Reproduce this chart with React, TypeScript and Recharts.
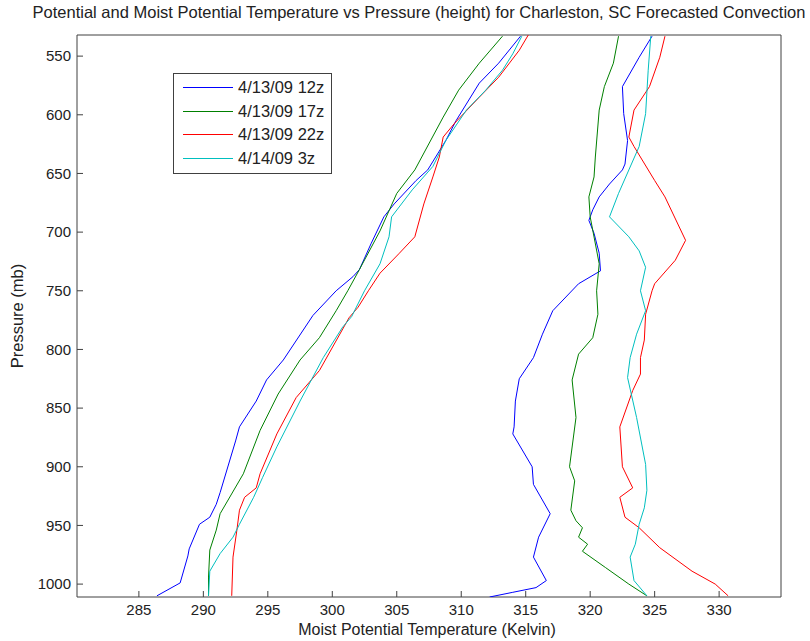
import { ComposedChart, Scatter, XAxis, YAxis, Legend } from 'recharts';

// axes
const tempTicks = [285, 290, 295, 300, 305, 310, 315, 320, 325, 330];
const pressureTicks = [550, 600, 650, 700, 750, 800, 850, 900, 950, 1000];
const T_DOMAIN: [number, number] = [280.2, 334.8];
const P_DOMAIN: [number, number] = [532, 1011];

const runs = ['4/13/09 12z', '4/13/09 17z', '4/13/09 22z', '4/14/09 3z'];
const COLORS = ['#0000ff', '#008000', '#ff0000', '#00bfbf'];

// potential temperature profiles (p in mb, t in K)
const theta12z = [
  { p: 1010, t: 286.4 }, { p: 999, t: 288.2 }, { p: 976, t: 288.8 }, { p: 970, t: 288.9 },
  { p: 949, t: 289.7 }, { p: 943, t: 290.5 }, { p: 932, t: 291.0 }, { p: 922, t: 291.3 },
  { p: 878, t: 292.5 }, { p: 866, t: 292.8 }, { p: 844, t: 294.1 }, { p: 826, t: 294.9 },
  { p: 809, t: 296.2 }, { p: 771, t: 298.5 }, { p: 750, t: 300.3 }, { p: 738, t: 301.6 },
  { p: 732, t: 302.1 }, { p: 710, t: 303.0 }, { p: 687, t: 304.0 }, { p: 676, t: 304.8 },
  { p: 656, t: 306.5 }, { p: 647, t: 307.4 }, { p: 622, t: 308.8 }, { p: 605, t: 309.6 },
  { p: 573, t: 311.4 }, { p: 556, t: 312.9 }, { p: 533, t: 314.6 },
];
const theta17z = [
  { p: 1010, t: 290.4 }, { p: 994, t: 290.4 }, { p: 971, t: 290.5 }, { p: 954, t: 291.0 },
  { p: 940, t: 291.3 }, { p: 906, t: 293.1 }, { p: 869, t: 294.4 }, { p: 838, t: 295.8 },
  { p: 809, t: 297.5 }, { p: 790, t: 299.0 }, { p: 767, t: 300.3 }, { p: 750, t: 301.2 },
  { p: 732, t: 302.1 }, { p: 699, t: 303.7 }, { p: 667, t: 305.0 }, { p: 647, t: 306.4 },
  { p: 602, t: 308.6 }, { p: 579, t: 309.8 }, { p: 556, t: 311.4 }, { p: 533, t: 313.2 },
];
const theta22z = [
  { p: 1010, t: 292.2 }, { p: 977, t: 292.3 }, { p: 954, t: 292.6 }, { p: 937, t: 292.8 },
  { p: 926, t: 293.2 }, { p: 918, t: 294.1 }, { p: 906, t: 294.4 }, { p: 872, t: 295.7 },
  { p: 841, t: 297.2 }, { p: 818, t: 299.0 }, { p: 773, t: 301.3 }, { p: 764, t: 302.0 },
  { p: 750, t: 302.8 }, { p: 735, t: 303.7 }, { p: 718, t: 305.2 }, { p: 704, t: 306.4 },
  { p: 676, t: 307.1 }, { p: 653, t: 307.8 }, { p: 636, t: 308.3 }, { p: 619, t: 308.6 },
  { p: 607, t: 309.5 }, { p: 585, t: 311.4 }, { p: 568, t: 312.9 }, { p: 545, t: 314.5 },
  { p: 532, t: 315.2 },
];
const theta3z = [
  { p: 1010, t: 290.4 }, { p: 989, t: 290.5 }, { p: 974, t: 291.3 }, { p: 960, t: 292.3 },
  { p: 949, t: 292.8 }, { p: 926, t: 293.9 }, { p: 909, t: 294.6 }, { p: 883, t: 295.7 },
  { p: 844, t: 297.5 }, { p: 807, t: 299.3 }, { p: 781, t: 300.8 }, { p: 772, t: 301.5 },
  { p: 750, t: 302.5 }, { p: 727, t: 303.7 }, { p: 704, t: 304.4 }, { p: 687, t: 304.6 },
  { p: 664, t: 306.2 }, { p: 644, t: 307.8 }, { p: 622, t: 308.8 }, { p: 596, t: 310.4 },
  { p: 579, t: 311.9 }, { p: 562, t: 313.2 }, { p: 548, t: 314.0 }, { p: 533, t: 314.7 },
];

// moist potential temperature profiles
const thetaE12z = [
  { p: 1011, t: 312.2 }, { p: 1007, t: 314.0 }, { p: 1003, t: 315.8 }, { p: 997, t: 316.6 },
  { p: 977, t: 315.6 }, { p: 960, t: 316.0 }, { p: 940, t: 316.9 }, { p: 915, t: 315.6 },
  { p: 900, t: 315.5 }, { p: 872, t: 314.0 }, { p: 866, t: 314.1 }, { p: 844, t: 314.2 },
  { p: 825, t: 314.5 }, { p: 807, t: 315.6 }, { p: 787, t: 316.3 }, { p: 767, t: 317.1 },
  { p: 744, t: 319.1 }, { p: 733, t: 320.8 }, { p: 718, t: 320.7 }, { p: 701, t: 320.3 },
  { p: 690, t: 319.9 }, { p: 681, t: 320.2 }, { p: 670, t: 320.7 }, { p: 659, t: 321.5 },
  { p: 647, t: 322.5 }, { p: 642, t: 322.7 }, { p: 622, t: 322.9 }, { p: 599, t: 322.6 },
  { p: 576, t: 322.5 }, { p: 551, t: 323.8 }, { p: 533, t: 324.8 },
];
const thetaE17z = [
  { p: 1010, t: 324.4 }, { p: 1000, t: 323.0 }, { p: 986, t: 321.2 }, { p: 972, t: 319.4 },
  { p: 966, t: 319.8 }, { p: 960, t: 319.1 }, { p: 952, t: 319.4 }, { p: 946, t: 318.9 },
  { p: 937, t: 318.5 }, { p: 912, t: 318.8 }, { p: 900, t: 318.4 }, { p: 858, t: 318.9 },
  { p: 826, t: 318.6 }, { p: 804, t: 319.1 }, { p: 790, t: 320.2 }, { p: 770, t: 320.6 },
  { p: 750, t: 320.5 }, { p: 727, t: 320.7 }, { p: 687, t: 320.0 }, { p: 670, t: 319.9 },
  { p: 653, t: 320.3 }, { p: 636, t: 320.4 }, { p: 596, t: 320.7 }, { p: 576, t: 321.1 },
  { p: 556, t: 321.8 }, { p: 533, t: 322.2 },
];
const thetaE22z = [
  { p: 1010, t: 330.7 }, { p: 1000, t: 329.7 }, { p: 989, t: 327.9 }, { p: 969, t: 325.4 },
  { p: 952, t: 323.8 }, { p: 943, t: 322.7 }, { p: 926, t: 322.3 }, { p: 918, t: 323.3 },
  { p: 900, t: 322.5 }, { p: 866, t: 322.3 }, { p: 835, t: 323.3 }, { p: 821, t: 323.9 },
  { p: 807, t: 323.9 }, { p: 792, t: 324.2 }, { p: 770, t: 324.3 }, { p: 750, t: 324.8 },
  { p: 744, t: 325.0 }, { p: 724, t: 326.6 }, { p: 707, t: 327.4 }, { p: 670, t: 325.8 },
  { p: 656, t: 325.0 }, { p: 627, t: 323.4 }, { p: 619, t: 323.0 }, { p: 596, t: 323.4 },
  { p: 576, t: 324.6 }, { p: 551, t: 325.4 }, { p: 533, t: 325.8 },
];
const thetaE3z = [
  { p: 1010, t: 324.4 }, { p: 997, t: 323.4 }, { p: 977, t: 323.1 }, { p: 966, t: 323.5 },
  { p: 949, t: 323.8 }, { p: 935, t: 324.2 }, { p: 920, t: 324.4 }, { p: 898, t: 324.3 },
  { p: 858, t: 323.6 }, { p: 824, t: 322.9 }, { p: 807, t: 323.1 }, { p: 787, t: 323.6 },
  { p: 767, t: 324.3 }, { p: 750, t: 323.9 }, { p: 730, t: 324.3 }, { p: 716, t: 323.8 },
  { p: 704, t: 323.0 }, { p: 687, t: 321.5 }, { p: 667, t: 322.2 }, { p: 647, t: 323.0 },
  { p: 627, t: 323.8 }, { p: 599, t: 324.3 }, { p: 562, t: 324.5 }, { p: 533, t: 324.7 },
];

const dryProfiles = [theta12z, theta17z, theta22z, theta3z];
const moistProfiles = [thetaE12z, thetaE17z, thetaE22z, thetaE3z];

const FONT = '"Liberation Sans", Arial, Helvetica, sans-serif';
const AXIS = '#404040';
const TICK = { fontSize: 15, fill: '#222', fontFamily: FONT };

const noDot = () => <g />;

function MatlabLegend() {
  return (
    <div
      style={{
        border: `1px solid ${AXIS}`,
        background: '#fff',
        padding: '2px 0 3px 0',
        fontFamily: FONT,
        fontSize: 16.5,
        color: '#222',
        boxSizing: 'border-box',
        width: 159,
        height: 101,
      }}
    >
      {runs.map((name, i) => (
        <div key={name} style={{ display: 'flex', alignItems: 'center', height: 23.5 }}>
          <span style={{ display: 'inline-block', width: 50, height: 1, background: COLORS[i], marginLeft: 9, marginRight: 5 }} />
          <span>{name}</span>
        </div>
      ))}
    </div>
  );
}

export default function App() {
  return (
    <div style={{ position: 'absolute', left: 0, top: 0, width: 810, height: 641, background: '#fff', fontFamily: FONT }}>
      <div
        style={{
          position: 'absolute', top: 2, left: 0, width: 838, textAlign: 'center',
          fontSize: 16.5, lineHeight: '20px', color: '#222', whiteSpace: 'nowrap',
        }}
      >
        Potential and Moist Potential Temperature vs Pressure (height) for Charleston, SC Forecasted Convection
      </div>
      <ComposedChart width={810} height={641} margin={{ top: 34, right: 28, bottom: 43, left: 76 }}>
        <XAxis
          xAxisId="t" dataKey="t" type="number" domain={T_DOMAIN} ticks={tempTicks} allowDataOverflow
          height={1} tickSize={-6} tickMargin={13} tick={TICK}
          axisLine={{ stroke: AXIS }} tickLine={{ stroke: AXIS }}
        />
        <XAxis
          xAxisId="top" orientation="top" type="number" domain={T_DOMAIN} ticks={tempTicks} allowDataOverflow
          height={1} tickSize={-6} tick={false}
          axisLine={{ stroke: AXIS }} tickLine={{ stroke: AXIS }}
        />
        <YAxis
          yAxisId="p" dataKey="p" type="number" domain={P_DOMAIN} ticks={pressureTicks} reversed allowDataOverflow
          width={1} tickSize={-6} tickMargin={12} tick={TICK}
          axisLine={{ stroke: AXIS }} tickLine={{ stroke: AXIS }}
        />
        <YAxis
          yAxisId="right" orientation="right" type="number" domain={P_DOMAIN} ticks={pressureTicks} reversed allowDataOverflow
          width={1} tickSize={-6} tick={false}
          axisLine={{ stroke: AXIS }} tickLine={{ stroke: AXIS }}
        />
        {dryProfiles.map((data, i) => (
          <Scatter
            key={`dry-${runs[i]}`} name={runs[i]} data={data} xAxisId="t" yAxisId="p"
            fill={COLORS[i]} line={{ stroke: COLORS[i], strokeWidth: 1 }} lineType="joint"
            shape={noDot} isAnimationActive={false}
          />
        ))}
        {moistProfiles.map((data, i) => (
          <Scatter
            key={`moist-${runs[i]}`} name={runs[i]} data={data} xAxisId="t" yAxisId="p"
            fill={COLORS[i]} line={{ stroke: COLORS[i], strokeWidth: 1 }} lineType="joint"
            shape={noDot} isAnimationActive={false}
          />
        ))}
        <Legend
          layout="horizontal" verticalAlign="middle" align="center"
          wrapperStyle={{ left: 173, top: 73, width: 159, height: 101 }}
          content={() => <MatlabLegend />}
        />
      </ComposedChart>
      <div
        style={{
          position: 'absolute', top: 620, left: 0, width: 854, textAlign: 'center',
          fontSize: 16, lineHeight: '20px', color: '#222',
        }}
      >
        Moist Potential Temperature (Kelvin)
      </div>
      <div
        style={{
          position: 'absolute', left: 17, top: 316, transform: 'translate(-50%, -50%) rotate(-90deg)',
          fontSize: 16.5, lineHeight: '20px', color: '#222', whiteSpace: 'nowrap',
        }}
      >
        Pressure (mb)
      </div>
    </div>
  );
}
